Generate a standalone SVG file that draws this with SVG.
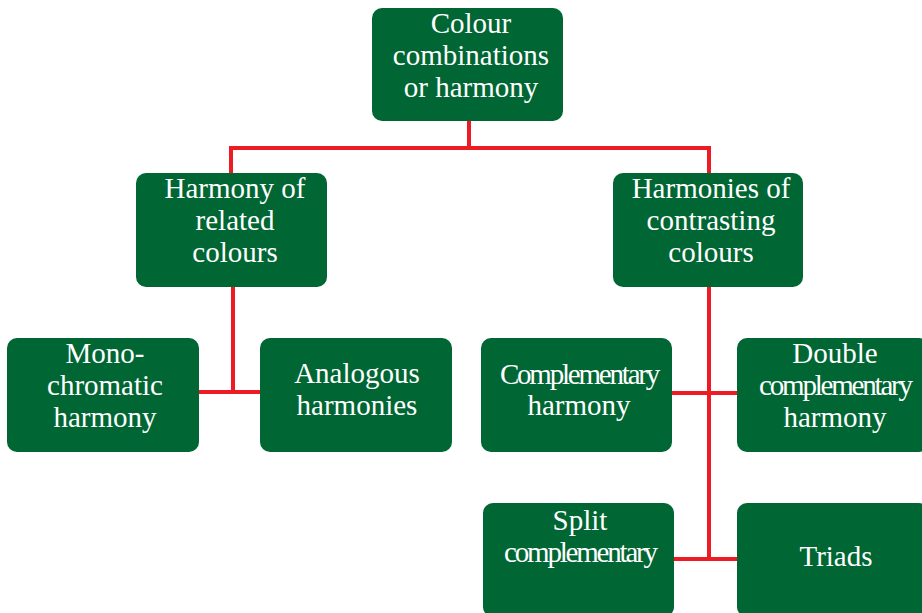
<svg xmlns="http://www.w3.org/2000/svg" width="922" height="613" viewBox="0 0 922 613">
<style>
.box{fill:#006633;}
.t{font-family:"Liberation Serif","Times New Roman",serif;font-size:29px;fill:#ffffff;text-anchor:middle;letter-spacing:0px;}
.tight{letter-spacing:-2.2px;}
.c{stroke:#ed1c24;stroke-width:4;fill:none;}
</style>
<rect width="922" height="613" fill="#ffffff"/>
<g id="connectors">
<path class="c" d="M469 121V148M231 148H709M231 146V173M709 146V173"/>
<path class="c" d="M233 287V392M199 392H260"/>
<path class="c" d="M709 287V559M672 393H737M674 559H737"/>
</g>
<g id="root">
<rect class="box" x="372" y="8" width="191" height="113" rx="10"/>
<text class="t" x="471" y="33">Colour</text>
<text class="t" x="471" y="65">combinations</text>
<text class="t" x="471" y="97">or harmony</text>
</g>
<g id="related">
<rect class="box" x="136" y="173" width="191" height="114" rx="10"/>
<text class="t" x="235" y="198">Harmony of</text>
<text class="t" x="235" y="230">related</text>
<text class="t" x="235" y="262">colours</text>
</g>
<g id="contrasting">
<rect class="box" x="613" y="173" width="190" height="114" rx="10"/>
<text class="t" x="711" y="198">Harmonies of</text>
<text class="t" x="711" y="230">contrasting</text>
<text class="t" x="711" y="262">colours</text>
</g>
<g id="mono">
<rect class="box" x="7" y="338" width="192" height="114" rx="10"/>
<text class="t" x="105" y="363">Mono-</text>
<text class="t" x="105" y="395">chromatic</text>
<text class="t" x="105" y="427">harmony</text>
</g>
<g id="analogous">
<rect class="box" x="260" y="338" width="192" height="114" rx="10"/>
<text class="t" x="357" y="383">Analogous</text>
<text class="t" x="357" y="415">harmonies</text>
</g>
<g id="complementary">
<rect class="box" x="481" y="338" width="191" height="114" rx="10"/>
<text class="t tight" x="579" y="384">Complementary</text>
<text class="t" x="579" y="415">harmony</text>
</g>
<g id="double">
<rect class="box" x="737" y="338" width="192" height="114" rx="10"/>
<text class="t" x="835" y="363">Double</text>
<text class="t tight" x="835" y="395">complementary</text>
<text class="t" x="835" y="427">harmony</text>
</g>
<g id="split">
<rect class="box" x="483" y="503" width="191" height="114" rx="10"/>
<text class="t" x="580" y="530">Split</text>
<text class="t tight" x="580" y="562">complementary</text>
</g>
<g id="triads">
<rect class="box" x="737" y="503" width="192" height="114" rx="10"/>
<text class="t" x="836" y="566">Triads</text>
</g>
</svg>
